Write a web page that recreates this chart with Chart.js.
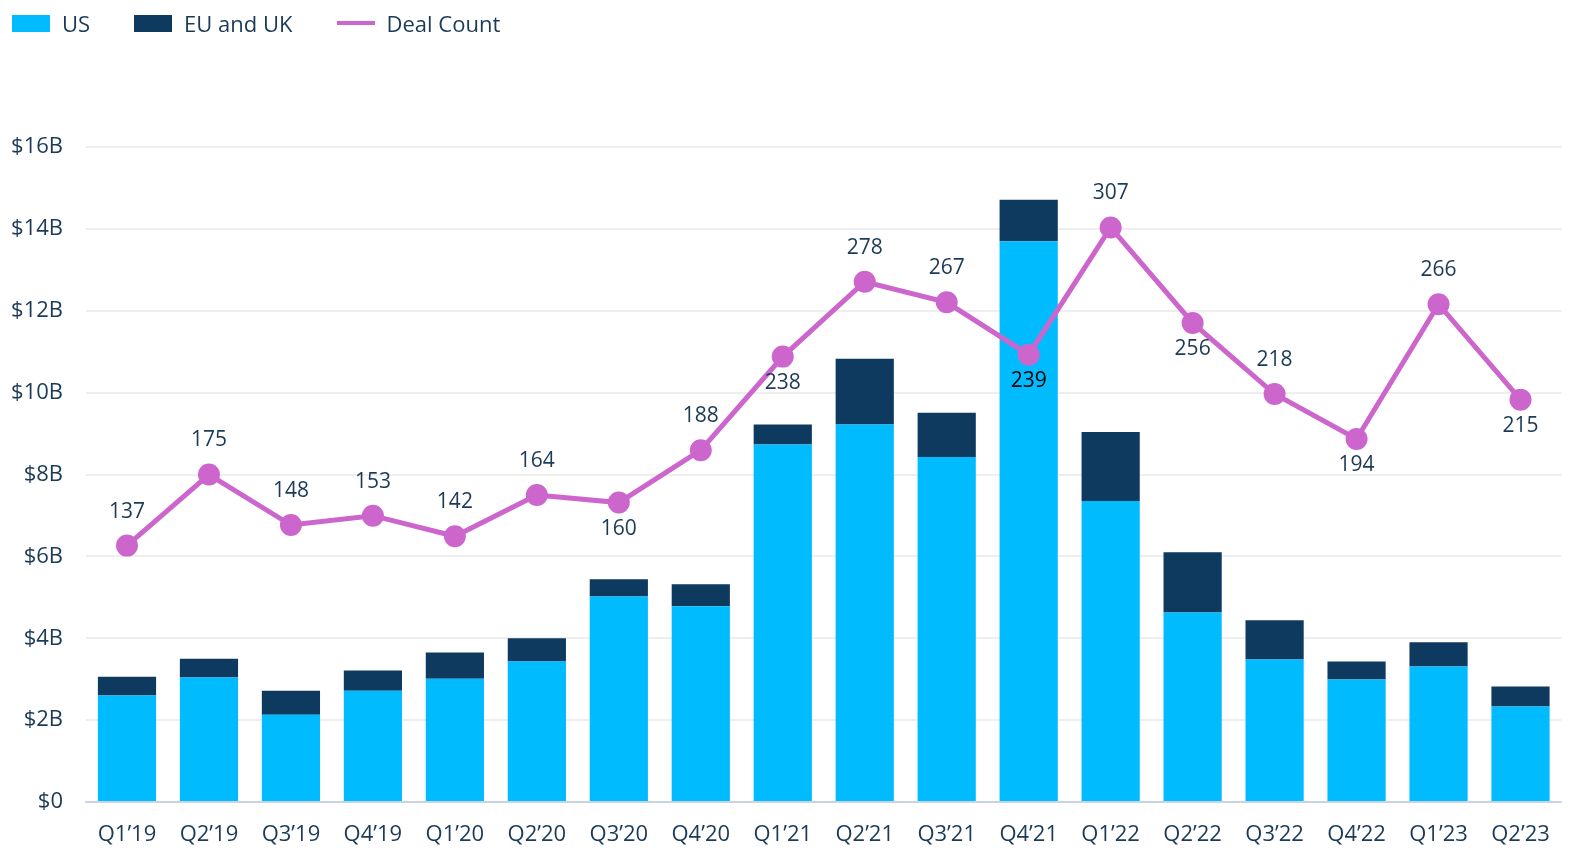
<!DOCTYPE html>
<html>
<head>
<meta charset="utf-8">
<script src="https://cdn.jsdelivr.net/npm/chart.js@4.4.1/dist/chart.umd.min.js"></script>
<style>
  html, body { margin: 0; padding: 0; background: #fff; overflow: hidden; }
  .wrap { position: relative; width: 1575px; height: 858px; }
  canvas { display: block; }
  .legend { position: absolute; left: 12px; top: 8px; display: flex; font-family: "Open Sans", sans-serif; font-size: 22px; color: #1b3a57; }
  .legend .item { display: flex; align-items: center; margin-right: 44px; }
  .legend .swatch { width: 38px; height: 17px; margin-right: 12px; }
  .legend .line { width: 38px; height: 4px; margin-right: 12px; }
</style>
</head>
<body>
<div class="wrap">
  <div class="legend" id="legend"></div>
  <canvas id="chart" width="1575" height="858"></canvas>
</div>
<script>
const quarters = ['Q1\u201919', 'Q2\u201919', 'Q3\u201919', 'Q4\u201919', 'Q1\u201920', 'Q2\u201920', 'Q3\u201920', 'Q4\u201920',
  'Q1\u201921', 'Q2\u201921', 'Q3\u201921', 'Q4\u201921', 'Q1\u201922', 'Q2\u201922', 'Q3\u201922', 'Q4\u201922', 'Q1\u201923', 'Q2\u201923'];
// funding, $B
const usFunding = [2.60, 3.04, 2.13, 2.72, 3.01, 3.43, 5.02, 4.78, 8.73, 9.22, 8.43, 13.70, 7.35, 4.63, 3.48, 2.99, 3.31, 2.33];
const euUkFunding = [0.46, 0.46, 0.59, 0.49, 0.64, 0.57, 0.42, 0.54, 0.49, 1.61, 1.08, 1.01, 1.69, 1.47, 0.96, 0.44, 0.59, 0.49];
const dealCount = [137, 175, 148, 153, 142, 164, 160, 188, 238, 278, 267, 239, 307, 256, 218, 194, 266, 215];
const yTicks = [0, 2, 4, 6, 8, 10, 12, 14, 16];

const textColor = '#1b3a57';
const font = "'Open Sans', sans-serif";

// which deal-count labels sit under the point
const labelsBelow = [6, 8, 11, 13, 15, 17];

const dealLabels = {
  id: 'dealLabels',
  afterDatasetsDraw(chart) {
    const ctx = chart.ctx;
    const meta = chart.getDatasetMeta(2);
    ctx.save();
    ctx.font = '21px ' + font;
    ctx.textAlign = 'center';
    ctx.textBaseline = 'middle';
    meta.data.forEach((pt, i) => {
      const below = labelsBelow.includes(i);
      ctx.fillStyle = i === 11 ? '#000' : textColor;
      ctx.fillText(String(dealCount[i]), pt.x, below ? pt.y + 26 : pt.y - 34);
    });
    ctx.restore();
  }
};

const chart = new Chart(document.getElementById('chart'), {
  type: 'bar',
  data: {
    labels: quarters,
    datasets: [
      { label: 'US', data: usFunding, backgroundColor: '#00bcff', yAxisID: 'y', order: 2, stack: 'f' },
      { label: 'EU and UK', data: euUkFunding, backgroundColor: '#0f3a60', yAxisID: 'y', order: 2, stack: 'f' },
      { label: 'Deal Count', type: 'line', data: dealCount, borderColor: '#cc66cc', backgroundColor: '#cc66cc',
        borderWidth: 5, pointRadius: 8.5, pointHoverRadius: 8.5, yAxisID: 'y1', order: 1, tension: 0 }
    ]
  },
  options: {
    responsive: false,
    animation: false,
    layout: { padding: { top: 147, left: 8, right: 13, bottom: 13 } },
    datasets: { bar: { categoryPercentage: 1, barPercentage: 0.71 } },
    plugins: { legend: { display: false }, tooltip: { enabled: false } },
    scales: {
      x: {
        stacked: true,
        afterFit: s => { s.height = 43; },
        grid: { display: false, drawTicks: false },
        border: { color: '#c8d4e2', width: 2 },
        ticks: { color: textColor, font: { size: 22, family: font }, padding: 20, maxRotation: 0 }
      },
      y: {
        stacked: true,
        min: 0, max: 16,
        afterBuildTicks: s => { s.ticks = yTicks.map(v => ({ value: v })); },
        afterFit: s => { s.width = 78; },
        grid: { color: '#eeeeee', lineWidth: 2, drawTicks: false },
        border: { display: false },
        ticks: { color: textColor, font: { size: 22, family: font }, padding: 23, callback: v => '$' + v + (v ? 'B' : '') }
      },
      y1: { display: false, stacked: false, min: 0, max: 350 }
    }
  },
  plugins: [dealLabels]
});

const legend = document.getElementById('legend');
chart.data.datasets.forEach(ds => {
  const item = document.createElement('div');
  item.className = 'item';
  const mark = document.createElement('span');
  mark.className = ds.type === 'line' ? 'line' : 'swatch';
  mark.style.background = ds.type === 'line' ? ds.borderColor : ds.backgroundColor;
  item.appendChild(mark);
  item.appendChild(document.createTextNode(ds.label));
  legend.appendChild(item);
});
</script>
</body>
</html>
